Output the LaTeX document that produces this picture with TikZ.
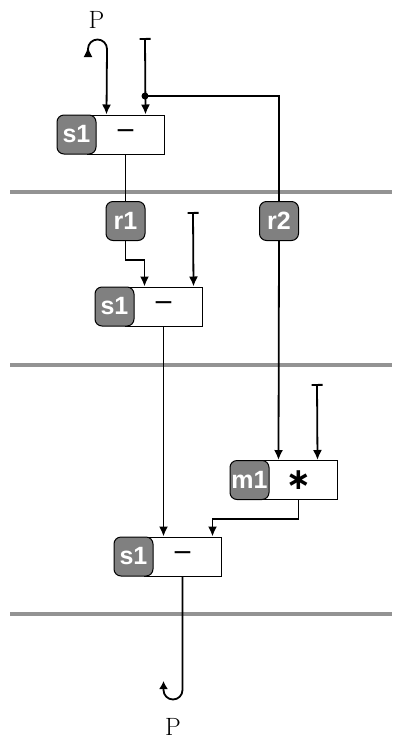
\documentclass[tikz,border=0pt]{standalone}
\usepackage{fontspec}
\usepackage{tikz}
\usetikzlibrary{arrows.meta}
\newfontfamily\tagfont{Liberation Sans}
\newfontfamily\symfont{DejaVu Sans}
\definecolor{taggray}{HTML}{808080}
\definecolor{rulegray}{HTML}{939393}
\tikzset{
  wire/.style={line width=1.8pt},
  feed/.style={wire,-{Latex[length=10pt,width=9pt]}},
  konst/.style={wire,{Bar[width=11pt]}-{Latex[length=10pt,width=9pt]}},
  opbox/.style={draw,line width=1pt,fill=white,minimum width=77pt,minimum height=39pt,inner sep=0pt},
  optag/.style={draw,line width=1pt,fill=taggray,rounded corners=7pt,minimum width=39pt,minimum height=39pt,
    inner sep=0pt,text=white,font=\tagfont\bfseries\fontsize{25}{25}\selectfont},
  sep/.style={line width=3.5pt,rulegray},
}
\newcommand{\opminus}{\symfont\fontsize{25}{25}\selectfont −}
\newcommand{\optimes}{\symfont\bfseries\fontsize{30}{30}\selectfont ∗}
\begin{document}
\begin{tikzpicture}[x=1pt,y=-1pt]
  \useasboundingbox (0,0) rectangle (392,740);
  % stage separators
  \foreach \ry in {192,365,614}
    \draw[sep] (10,\ry) -- (392,\ry);
  % operations
  \node[opbox] (s1a) at (125.5,134.5) {\opminus};
  \node[optag,anchor=east] (s1atag) at ([xshift=10pt]s1a.west) {s1};
  \node[opbox] (s1b) at (163.5,306.5) {\opminus};
  \node[optag,anchor=east] (s1btag) at ([xshift=10pt]s1b.west) {s1};
  \node[opbox] (m1) at (298.5,480) {\optimes};
  \node[optag,anchor=east] (m1tag) at ([xshift=10pt]m1.west) {m1};
  \node[opbox] (s1c) at (182.5,556.5) {\opminus};
  \node[optag,anchor=east] (s1ctag) at ([xshift=10pt]s1c.west) {s1};
  % registers
  \node[optag] (r1) at (125.5,221) {r1};
  \node[optag] (r2) at (279,221) {r2};
  % ports
  \node[font=\fontsize{25}{25}\selectfont] (pin) at (96.5,20) {P};
  \node[font=\fontsize{25}{25}\selectfont] (pout) at (173,727) {P};
  \coordinate (pinend) at (88,57);
  \coordinate (ka) at (145,38);
  \coordinate (kb) at (193,212);
  \coordinate (km) at (317,384);
  \coordinate (split) at (145,96);
  % top stage
  \draw[wire,{Latex[length=10pt,width=9pt,reversed]}-{Latex[length=10pt,width=9pt]}]
    (pinend) -- (88,49) arc[start angle=180,end angle=0,radius=9.5pt] -- ([xshift=20pt]s1a.north west);
  \draw[konst] (ka) -- ([xshift=-19pt]s1a.north east);
  \fill (split) circle (3.5pt);
  \draw[wire] (s1a.south) -- (r1.north);
  \draw[wire] (split) -| (r2.north);
  % middle stage
  \draw[feed] (r1.south) -- ++(0,19) -| ([xshift=20pt]s1b.north west);
  \draw[konst] (kb) -- ([xshift=-9pt]s1b.north east);
  \draw[feed] (r2.south) -- ([xshift=19pt]m1.north west);
  \draw[konst] (km) -- ([xshift=-20pt]m1.north east);
  % bottom stage
  \draw[feed] (s1b.south) -- ([xshift=20pt]s1c.north west);
  \draw[feed] (m1.south) -- ++(0,19) -| ([xshift=-9pt]s1c.north east);
  \draw[wire,-{Latex[length=8pt,width=9pt]}]
    (s1c.south) -- (182.5,690) arc[start angle=0,end angle=-180,radius=9.5pt] -- (163.5,681);
\end{tikzpicture}
\end{document}
